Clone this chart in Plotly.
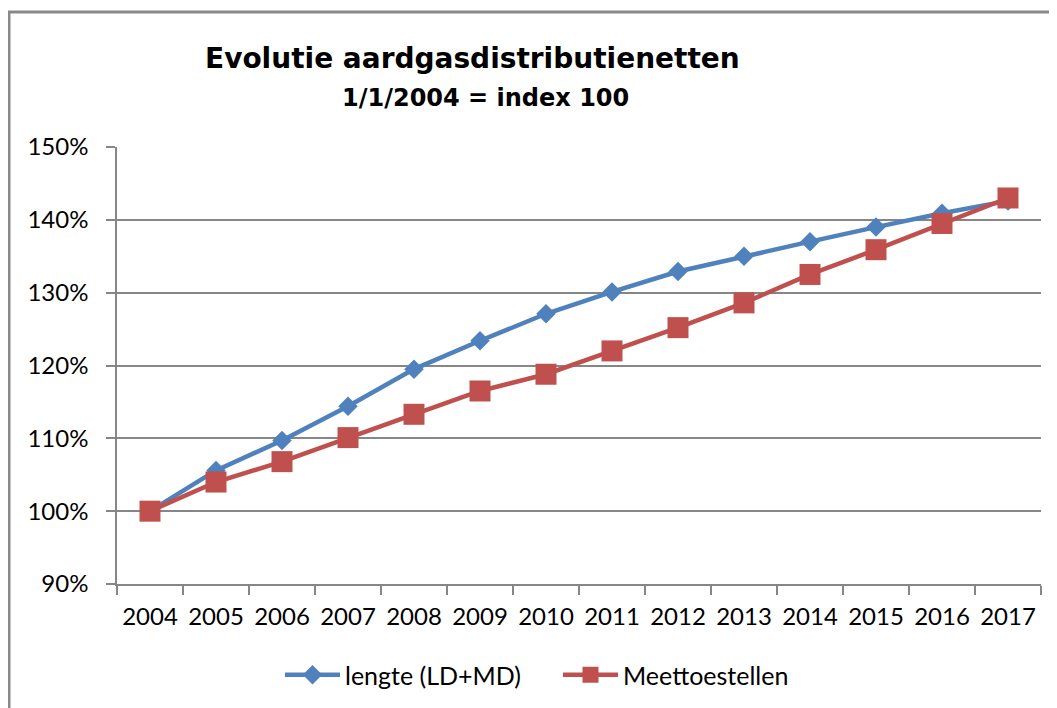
import plotly.graph_objects as go

years = [str(y) for y in range(2004, 2018)]
lengte = [1.000, 1.056, 1.097, 1.144, 1.195, 1.234, 1.271, 1.301, 1.329, 1.350, 1.370, 1.390, 1.409, 1.426]
meettoestellen = [1.000, 1.040, 1.068, 1.101, 1.133, 1.165, 1.188, 1.220, 1.252, 1.286, 1.325, 1.359, 1.395, 1.430]

blue = "#4F81BD"
red = "#C0504D"
grid = "#868686"
font = "Lato"

fig = go.Figure()
fig.add_trace(go.Scatter(x=years, y=lengte, name="lengte (LD+MD)", mode="lines+markers",
                         line=dict(color=blue, width=4.5),
                         marker=dict(symbol="diamond", size=15, color=blue)))
fig.add_trace(go.Scatter(x=years, y=meettoestellen, name="Meettoestellen", mode="lines+markers",
                         line=dict(color=red, width=4.5),
                         marker=dict(symbol="square", size=21, color=red)))

# page has an 8px body margin; plot area sits at x 117..1041, y 147..584 on the page
def px(x):
    return (x - 117) / 924

def py(y):
    return (584 - y) / 437

fig.update_layout(
    width=1049, height=700,
    margin=dict(l=109, r=16, t=139, b=124, autoexpand=False),
    paper_bgcolor="white", plot_bgcolor="white",
    font=dict(family=font, size=23, color="#000000"),
    showlegend=True,
    legend=dict(orientation="h", x=px(280), xanchor="left", y=py(675), yanchor="middle",
                entrywidth=208, itemwidth=55,
                font=dict(family=font, size=25), bgcolor="rgba(0,0,0,0)"),
    annotations=[
        dict(text="<b>Evolutie aardgasdistributienetten</b>", x=px(472), y=py(58),
             xref="paper", yref="paper", xanchor="center", yanchor="middle", showarrow=False,
             font=dict(family="DejaVu Sans", size=28)),
        dict(text="<b>1/1/2004 = index 100</b>", x=px(485), y=py(98),
             xref="paper", yref="paper", xanchor="center", yanchor="middle", showarrow=False,
             font=dict(family="DejaVu Sans", size=24)),
    ],
    shapes=[
        dict(type="line", xref="paper", yref="paper", x0=px(9), x1=px(9), y0=py(11), y1=py(712),
             line=dict(color="#898989", width=3)),
        dict(type="line", xref="paper", yref="paper", x0=px(8), x1=px(1060), y0=py(12), y1=py(12),
             line=dict(color="#898989", width=3)),
    ],
)

fig.update_xaxes(type="category", range=[-0.5, len(years) - 0.5],
                 showgrid=False, showline=True, linecolor=grid, linewidth=1.5,
                 ticks="outside", ticklen=9, tickcolor=grid, tickwidth=1.5, tickson="boundaries",
                 tickangle=0, automargin=False,
                 ticklabelstandoff=10, tickfont=dict(family=font, size=24))
fig.update_yaxes(range=[0.9, 1.5], dtick=0.1, tickformat=".0%", showgrid=True, gridcolor=grid,
                 gridwidth=1.5, showline=True, linecolor=grid, linewidth=1.5, zeroline=False,
                 ticks="outside", ticklen=9, tickcolor=grid, tickwidth=1.5, automargin=False,
                 ticklabelstandoff=13, tickfont=dict(family=font, size=24))

fig.write_html("out.html")
